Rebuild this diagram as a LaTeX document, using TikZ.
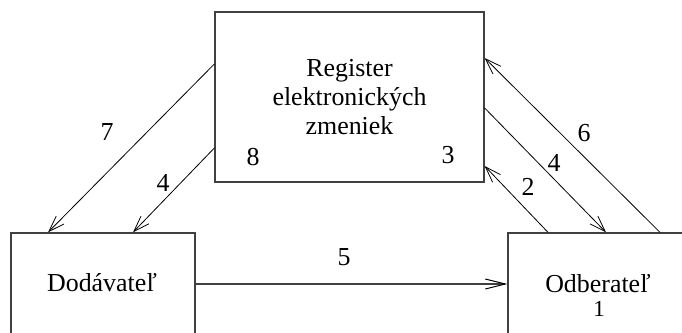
\documentclass[tikz,border=0pt]{standalone}
\usepackage{fontspec}
\setmainfont{Liberation Serif}
\usetikzlibrary{arrows.meta}
\begin{document}
\begin{tikzpicture}[x=1bp,y=-1bp,
  box/.style={draw=black!75,line width=1.3bp,rectangle,inner sep=0pt},
  txt/.style={inner sep=0pt,font=\fontsize{26}{29.5}\selectfont,align=center},
  arr/.style={line width=0.8bp,-{Straight Barb[length=16bp,width=11bp,line width=0.8bp]}},
  arrg/.style={draw=black!75,line width=1.3bp,-{Straight Barb[length=20bp,width=10bp,line width=1bp,color=black]}}]
\useasboundingbox (0,0) rectangle (682,332);
\clip (0,0) rectangle (682,332);
\node[box,minimum width=269bp,minimum height=170bp,txt] (reg) at (349.5,97) {Register\\elektronických\\zmeniek};
\node[box,minimum width=184bp,minimum height=120bp] (dod) at (103,293) {};
\node[box,minimum width=180bp,minimum height=140bp] (odb) at (598,303) {};
\node[txt] (dodt) at (102,283) {Dodávateľ};
\node[txt] (odbt) at (598,284) {Odberateľ};
\node[txt,font=\fontsize{23}{26}\selectfont] (odbn) at (599,309) {1};
\draw[arr] (reg.west |- 0,64) -- (dod.north -| 48,0);
\draw[arr] (reg.west |- 0,148) -- (dod.north -| 133,0);
\draw[arrg] (dod.east |- 0,284) -- (odb.west |- 0,284);
\draw[arr] (odb.north -| 548,0) -- (reg.east |- 0,166);
\draw[arr] (reg.east |- 0,108) -- (odb.north -| 606,0);
\draw[arr] (odb.north -| 660,0) -- (reg.east |- 0,58);
\node[txt] (l7) at (107,132) {7};
\node[txt] (l8) at (253,157) {8};
\node[txt] (l4a) at (163,183) {4};
\node[txt] (l3) at (448,155) {3};
\node[txt] (l6) at (584,133) {6};
\node[txt] (l4b) at (554,163) {4};
\node[txt] (l2) at (528,187) {2};
\node[txt] (l5) at (344,257) {5};
\end{tikzpicture}
\end{document}
